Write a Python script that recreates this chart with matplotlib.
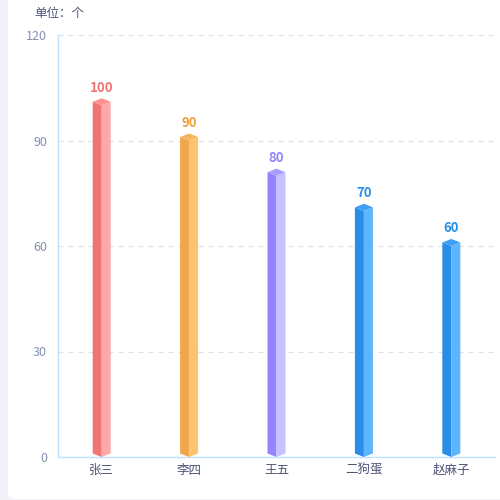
import matplotlib.pyplot as plt
from matplotlib.patches import Polygon, FancyBboxPatch

plt.rcParams['font.family'] = ['Noto Sans CJK SC', 'DejaVu Sans']

# data
names = ['张三', '李四', '王五', '二狗蛋', '赵麻子']
values = [100, 90, 80, 70, 60]
y_ticks = [0, 30, 60, 90, 120]

# left face, right face, top cap
left_colors = ['#F07474', '#F0A64C', '#9385FF', '#2A8EE8', '#2A8EE8']
right_colors = ['#FFA8A8', '#FFC26E', '#C8C0FF', '#5DB4FF', '#5DB4FF']
top_colors = ['#FF8F8F', '#F8B560', '#A99EFF', '#3E9FF5', '#3E9FF5']
label_colors = ['#F07474', '#F0A040', '#9385FF', '#2A8EE8', '#2A8EE8']

fig = plt.figure(figsize=(5, 5), dpi=100)
fig.patch.set_facecolor('#F2F3F8')

# white card
card = FancyBboxPatch((0.016, 0.002), 1.1, 1.1, boxstyle='round,pad=0,rounding_size=0.014',
                      transform=fig.transFigure, facecolor='white', edgecolor='none', zorder=-1)
fig.patches.append(card)

ax = fig.add_axes([0.116, 0.086, 0.874, 0.844])
ax.set_facecolor('none')
ax.set_zorder(2)

hw = 0.103   # half bar width in category units
d = 1.0      # slant of caps in data units

for i, v in enumerate(values):
    x = i
    left = Polygon([(x - hw, d), (x, 0), (x, v), (x - hw, v + d)], closed=True,
                   facecolor=left_colors[i], edgecolor='none', zorder=3)
    right = Polygon([(x, 0), (x + hw, d), (x + hw, v + d), (x, v)], closed=True,
                    facecolor=right_colors[i], edgecolor='none', zorder=3)
    top = Polygon([(x - hw, v + d), (x, v), (x + hw, v + d), (x, v + 2 * d)], closed=True,
                  facecolor=top_colors[i], edgecolor='none', zorder=4)
    ax.add_patch(left)
    ax.add_patch(right)
    ax.add_patch(top)
    ax.annotate(str(v), (x, v + 2 * d), xytext=(0, 2.5), textcoords='offset points',
                ha='center', va='bottom', fontsize=9.5, fontweight='bold',
                color=label_colors[i], zorder=5)

ax.set_xlim(-0.5, len(names) - 0.5)
ax.set_ylim(0, 120)
ax.set_xticks(range(len(names)))
ax.set_xticklabels(names, fontsize=9, color='#4E5578')
ax.set_yticks(y_ticks)
ax.set_yticklabels([str(t) for t in y_ticks], fontsize=9, color='#8590B2')
ax.tick_params(axis='both', length=0)
ax.tick_params(axis='x', pad=5)
ax.tick_params(axis='y', pad=8)

for t in y_ticks[1:]:
    ax.axhline(t, color='#DDE1E8', linestyle=(0, (4, 4)), linewidth=0.9, zorder=1)

for s in ['top', 'right']:
    ax.spines[s].set_visible(False)
ax.spines['left'].set_color('#BFE0FF')
ax.spines['bottom'].set_color('#BFE0FF')
ax.spines['left'].set_linewidth(1)
ax.spines['bottom'].set_linewidth(1)

fig.text(0.068, 0.974, '单位：个', fontsize=9, color='#4E5578', ha='left', va='center')

fig.savefig('out.png', dpi=100, facecolor=fig.get_facecolor())
